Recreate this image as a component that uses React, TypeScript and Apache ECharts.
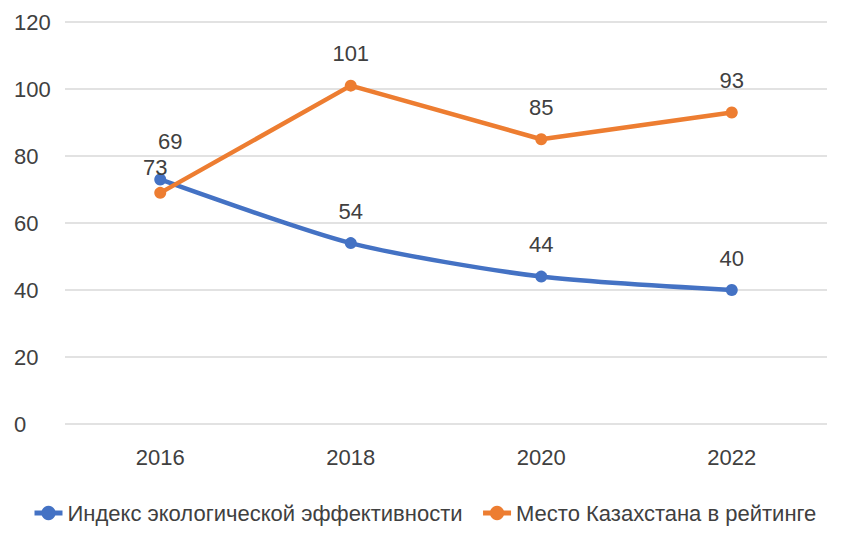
import React, { useEffect, useRef } from "react";
import * as echarts from "echarts";

const years = ["2016", "2018", "2020", "2022"];
const indexValues = [73, 54, 44, 40];
const placeValues = [69, 101, 85, 93];
const seriesNames = ["Индекс экологической эффективности", "Место Казахстана в рейтинге"];
const yTicks = { min: 0, max: 120, interval: 20 };

const FONT = "'Liberation Sans', Arial, sans-serif";
const TEXT = "#404040";
const FS = 22;

export default function App() {
  const ref = useRef<HTMLDivElement>(null);
  useEffect(() => {
    if (!ref.current) return;
    const chart = echarts.init(ref.current, null, { renderer: "svg" });
    const labelBase = {
      show: true,
      position: "top",
      distance: 15,
      color: TEXT,
      fontSize: FS,
      fontFamily: FONT,
    };
    chart.setOption({
      animation: false,
      backgroundColor: "#ffffff",
      grid: { left: 65, right: 37, top: 22, bottom: 132, containLabel: false },
      legend: {
        bottom: 27,
        left: 27,
        itemWidth: 28,
        itemHeight: 18,
        itemGap: 18,
        lineStyle: { width: 5 },
        textStyle: { color: TEXT, fontSize: FS, fontFamily: FONT },
        data: seriesNames,
      },
      xAxis: {
        type: "category",
        data: years,
        boundaryGap: true,
        axisLine: { show: false },
        axisTick: { show: false },
        axisLabel: { color: TEXT, fontSize: FS, fontFamily: FONT, margin: 22 },
      },
      yAxis: {
        type: "value",
        min: yTicks.min,
        max: yTicks.max,
        interval: yTicks.interval,
        axisLine: { show: false },
        axisTick: { show: false },
        axisLabel: { color: TEXT, fontSize: FS, fontFamily: FONT, align: "left", margin: 51 },
        splitLine: { lineStyle: { color: "#d9d9d9", width: 1.5 } },
      },
      series: [
        {
          name: seriesNames[0],
          type: "line",
          smooth: 0.25,
          data: indexValues.map((v, i) =>
            i === 0 ? { value: v, label: { offset: [-5, 20] } } : v
          ),
          symbol: "circle",
          symbolSize: 12,
          color: "#4472C4",
          lineStyle: { width: 4.5, color: "#4472C4" },
          label: labelBase,
          z: 2,
        },
        {
          name: seriesNames[1],
          type: "line",
          data: placeValues.map((v, i) =>
            i === 0 ? { value: v, label: { offset: [10, -19] } } : v
          ),
          symbol: "circle",
          symbolSize: 12,
          color: "#ED7D31",
          lineStyle: { width: 4.5, color: "#ED7D31" },
          label: labelBase,
          z: 3,
        },
      ],
    });
    return () => chart.dispose();
  }, []);
  return <div ref={ref} style={{ width: 864, height: 556, position: "absolute", left: 0, top: 0 }} />;
}
